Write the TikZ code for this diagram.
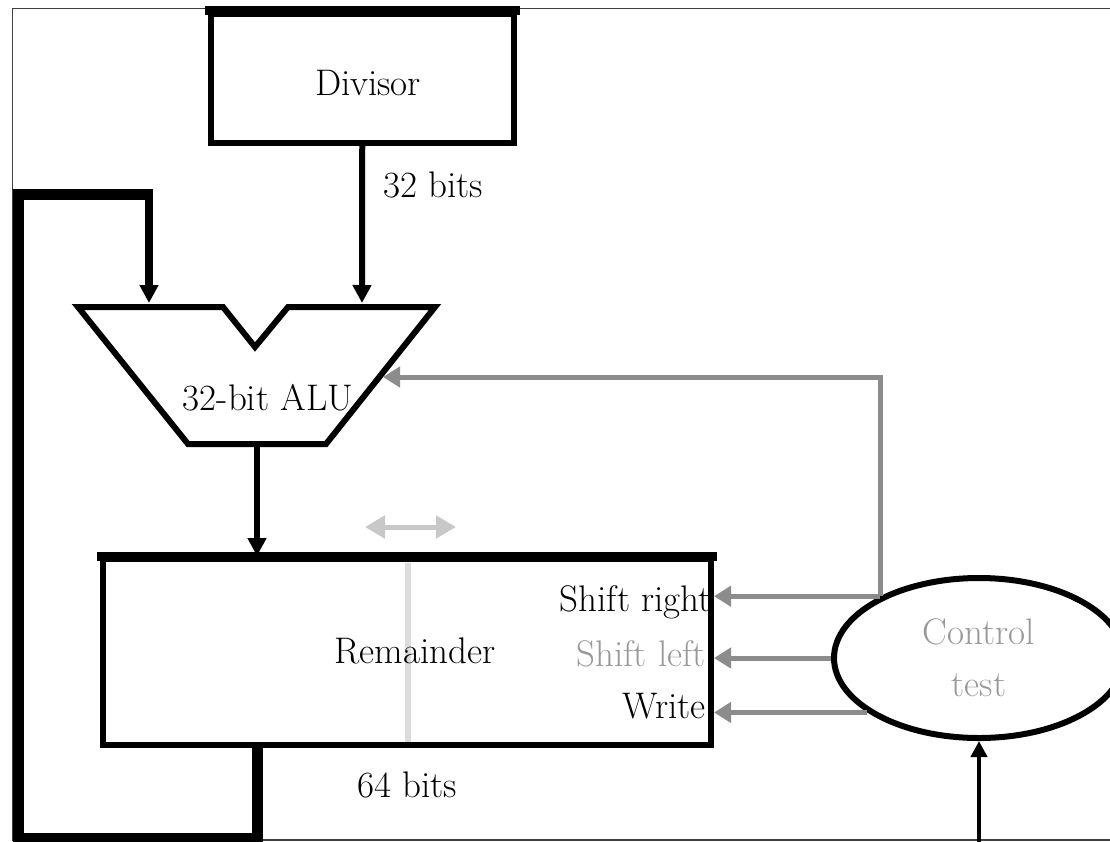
\documentclass[tikz,border=0pt]{standalone}
\usepackage{fontspec}
\usetikzlibrary{arrows.meta,shapes.geometric}
\definecolor{ctrlgray}{HTML}{8C8C8C}
\definecolor{txtgray}{HTML}{999999}
\definecolor{lightg}{HTML}{C8C8C8}
\definecolor{lineg}{HTML}{DCDCDC}
\tikzset{
 lbl/.style={font=\fontsize{37}{52}\selectfont, inner sep=0pt},
 box/.style={draw, line width=6pt, inner sep=0pt},
 blk/.style={line width=6pt, -{Triangle[width=18pt,length=18pt]}},
 gry/.style={draw=ctrlgray, line width=5pt, -{Triangle[width=20pt,length=17pt]}, color=ctrlgray},
}
\begin{document}
\begin{tikzpicture}[x=1pt,y=-1pt]
\useasboundingbox (0,0) rectangle (1110,841);
\clip (0,0) rectangle (1110,841);
\fill[white] (0,0) rectangle (1110,841);
\draw[line width=1.5pt, black!75] (12.5,8.5) rectangle (1130,840);

% Divisor
\node[box, minimum width=303.5pt, minimum height=129pt] (div) at (362.25,78) {};
\draw[line width=9pt] ([xshift=-3pt]div.north west) -- ([xshift=3pt]div.north east);
\node[lbl, anchor=base] (divlbl) at (368,95) {Divisor};

% ALU
\coordinate (a1) at (78,307);
\coordinate (a2) at (223,307);
\coordinate (a3) at (255,347);
\coordinate (a4) at (288,307);
\coordinate (a5) at (435,307);
\coordinate (a6) at (326,444);
\coordinate (a7) at (188,444);
\draw[line width=6pt, line join=miter] (a1) -- (a2) -- (a3) -- (a4) -- (a5) -- (a6) -- (a7) -- cycle;
\node[lbl, anchor=base] (alulbl) at (268,410) {32-bit ALU};
\coordinate (aluL) at (149,303);
\coordinate (aluD) at (362,303);
\coordinate (aluR) at (383,377);
\coordinate (aluB) at (257,447);

% Remainder
\node[box, minimum width=608.5pt, minimum height=186pt] (rem) at (406.75,652) {};
\draw[line width=9pt] ([xshift=-3pt]rem.north west) -- ([xshift=3pt]rem.north east);
\coordinate (vt) at (408,563);
\coordinate (vb) at (408,742);
\draw[lineg, line width=6pt] (vt) -- (vb);
\node[lbl, anchor=base] (remlbl) at (415,663) {Remainder};
\node[lbl, anchor=base east] (shr) at (712,611) {Shift right};
\node[lbl, anchor=base east, text=txtgray] (shl) at (706,666) {Shift left};
\node[lbl, anchor=base east] (wr) at (706,718) {Write};
\node[lbl, anchor=base] (b64) at (407,797) {64 bits};

% light double arrow
\coordinate (dl) at (365,527);
\coordinate (dr) at (456,527);
\draw[lightg, line width=5pt, {Triangle[width=22pt,length=20pt]}-{Triangle[width=22pt,length=20pt]}] (dl) -- (dr);

% Control
\node[ellipse, draw, line width=6pt, minimum width=290pt, minimum height=160pt, inner sep=0pt,
      lbl, text=txtgray, align=center] (ctrl) at (979,658) {Control\\test};

% Divisor to ALU
\draw[blk] (div.south) -- (aluD);
\node[lbl, anchor=base west] (b32) at (383,197) {32 bits};

% ALU to Remainder
\draw[blk] (aluB) -- (aluB |- rem.north);

% feedback loop
\coordinate (l1) at (257,838);
\coordinate (l2) at (18,838);
\coordinate (l3) at (18,194);
\coordinate (l4) at (149,194);
\draw[line width=11pt, line join=miter] (aluB |- rem.south) -- (l1) -- (l2) -- (l3) -- (l4);
\coordinate (l5) at (149,189);
\draw[line width=8pt, -{Triangle[width=18pt,length=18pt]}] (l5) -- (aluL);

% control lines
\draw[gry, line join=miter] (ctrl.148.7) -- (ctrl.148.7 |- aluR) -- (aluR);
\draw[gry] (ctrl.148.7) -- (ctrl.148.7 -| rem.east);
\draw[gry] (ctrl.west) -- (ctrl.west -| rem.east);
\draw[gry] (ctrl.206) -- (ctrl.206 -| rem.east);

% input to control
\coordinate (inp) at (979,845);
\draw[line width=4pt, -{Triangle[width=16pt,length=16pt]}] (inp) -- (ctrl.south);
\end{tikzpicture}
\end{document}
